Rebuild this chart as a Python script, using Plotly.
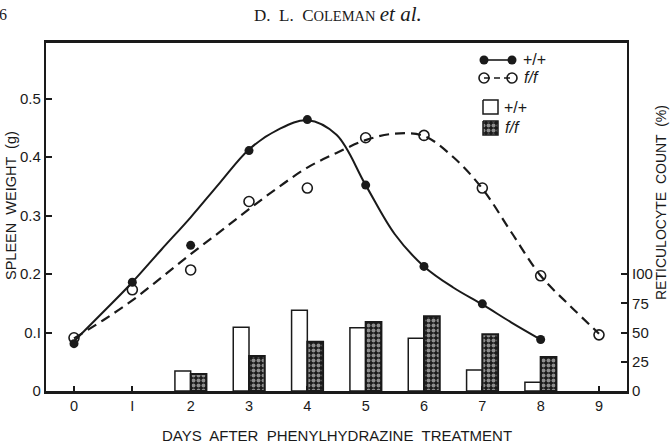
import plotly.graph_objects as go

# ---- data ----
days = [0, 1, 2, 3, 4, 5, 6, 7, 8, 9]
spleen_pp = [0.081, 0.186, 0.249, 0.411, 0.464, 0.352, 0.213, 0.149, 0.088, None]
spleen_ff = [0.091, 0.173, 0.207, 0.324, 0.347, 0.433, 0.437, 0.347, 0.197, 0.096]

# hand-drawn fitted curves
curve_pp_days = [0, 0.5, 1, 1.5, 2, 2.5, 3, 3.5, 4, 4.5, 5, 5.5, 6, 6.5, 7, 7.5, 8]
curve_pp_vals = [0.085, 0.135, 0.186, 0.242, 0.297, 0.356, 0.413, 0.447, 0.463,
                 0.438, 0.352, 0.268, 0.213, 0.177, 0.148, 0.117, 0.088]
curve_ff_days = [0, 0.5, 1, 1.5, 2, 2.5, 3, 3.5, 4, 4.5, 5, 5.5, 6, 6.5, 7, 7.5, 8, 8.5, 9]
curve_ff_vals = [0.09, 0.121, 0.155, 0.194, 0.234, 0.272, 0.311, 0.348, 0.382, 0.407,
                 0.429, 0.440, 0.436, 0.400, 0.346, 0.271, 0.197, 0.146, 0.098]

bar_days = [2, 3, 4, 5, 6, 7, 8]
retic_pp = [17, 54.5, 69, 54, 45, 18, 7.5]
retic_ff = [14.5, 30, 42, 59, 64, 48.5, 29]

x_ticks = [0, 1, 2, 3, 4, 5, 6, 7, 8, 9]
x_ticktext = ["0", "I", "2", "3", "4", "5", "6", "7", "8", "9"]
y_ticks = [0, 0.1, 0.2, 0.3, 0.4, 0.5]
y_ticktext = ["0", "0.I", "0.2", "0.3", "0.4", "0.5"]
y2_ticks = [0, 25, 50, 75, 100]
y2_ticktext = ["0", "25", "50", "75", "I00"]

# ---- layout geometry (pixels) ----
W, H = 671, 446
L, R, T, B = 46, 627, 43, 391
Y_MAX = 0.595
Y2_MAX = Y_MAX * 500

def px(xp):
    return (xp - L) / (R - L)

def py(yp):
    return (B - yp) / (B - T)

FONT = "Liberation Sans"
INK = "#1a1a1a"
STIPPLE = dict(shape=".", bgcolor=INK, fgcolor="white", size=5, solidity=0.5)

fig = go.Figure()

# bars (right axis)
fig.add_trace(go.Bar(
    x=bar_days, y=retic_pp, yaxis="y2", name="+/+",
    marker=dict(color="white", line=dict(color=INK, width=1.5)),
    showlegend=False,
))
fig.add_trace(go.Bar(
    x=bar_days, y=retic_ff, yaxis="y2", name="f/f",
    marker=dict(color="white", line=dict(color=INK, width=2), pattern=STIPPLE),
    showlegend=False,
))

# curves
fig.add_trace(go.Scatter(
    x=curve_ff_days, y=curve_ff_vals, mode="lines",
    line=dict(color=INK, width=2.2, dash="10px,6px", shape="spline", smoothing=1.0),
    showlegend=False, hoverinfo="skip",
))
fig.add_trace(go.Scatter(
    x=curve_pp_days, y=curve_pp_vals, mode="lines",
    line=dict(color=INK, width=2, shape="spline", smoothing=1.0),
    showlegend=False, hoverinfo="skip",
))
# points
fig.add_trace(go.Scatter(
    x=days, y=spleen_ff, mode="markers",
    marker=dict(symbol="circle-open", size=10, color=INK, line=dict(width=1.6)),
    showlegend=False,
))
fig.add_trace(go.Scatter(
    x=days, y=spleen_pp, mode="markers",
    marker=dict(symbol="circle", size=9, color=INK),
    showlegend=False,
))

# ---- custom legend on a pixel-space overlay axis ----
leg_x1, leg_x2 = 484, 512
row1, row2 = 60, 78
fig.add_trace(go.Scatter(
    x=[leg_x1, leg_x2], y=[row1, row1], xaxis="x3", yaxis="y3", mode="lines+markers",
    line=dict(color=INK, width=1.6), marker=dict(symbol="circle", size=9, color=INK),
    showlegend=False, hoverinfo="skip",
))
fig.add_trace(go.Scatter(
    x=[leg_x1, leg_x2], y=[row2, row2], xaxis="x3", yaxis="y3", mode="lines+markers",
    line=dict(color=INK, width=1.6, dash="6px,4px"),
    marker=dict(symbol="circle-open", size=10, color=INK, line=dict(width=1.6)),
    showlegend=False, hoverinfo="skip",
))
# legend swatches
sq = [(483, 498, 100, 114, False), (483, 498, 121, 135, True)]
for x0, x1, y0, y1, pat in sq:
    kw = dict(fillcolor="white")
    if pat:
        kw = dict(fillpattern=STIPPLE, fillcolor="white")
    fig.add_trace(go.Scatter(
        x=[x0, x1, x1, x0, x0], y=[y0, y0, y1, y1, y0], xaxis="x3", yaxis="y3",
        mode="lines", fill="toself", line=dict(color=INK, width=1.5),
        showlegend=False, hoverinfo="skip", **kw,
    ))

annotations = []
def txt(text, xp, yp, size=13, xanchor="left", angle=0, family=FONT, yanchor="middle"):
    annotations.append(dict(
        text=text, x=px(xp), y=py(yp), xref="paper", yref="paper",
        showarrow=False, xanchor=xanchor, yanchor=yanchor, textangle=angle,
        font=dict(family=family, size=size, color=INK),
    ))

txt("+/+", 521, row1, size=16)
txt("<i>f/f</i>", 522, row2, size=16)
txt("+/+", 502, 107, size=16)
txt("<i>f/f</i>", 503, 128, size=16)

# axis titles
txt("SPLEEN  WEIGHT  (g)", 11, 206, size=14.5, xanchor="center", angle=-90)
txt("RETICULOCYTE  COUNT  (%)", 661, 203, size=14, xanchor="center", angle=-90)
txt("DAYS  AFTER  PHENYLHYDRAZINE  TREATMENT", 337, 435, size=15, xanchor="center")

# page header
txt("D.  L.  C<span style='font-size:14.5px'>OLEMAN</span> "
    "<span style='font-size:21px'><i>et al.</i></span>", 338, 14,
    size=17, xanchor="center", family="Liberation Serif")
txt("6", 3, 14, size=16, xanchor="center", family="Liberation Serif")

fig.update_layout(
    width=W, height=H,
    margin=dict(l=L, r=W - R, t=T, b=H - B, pad=0),
    paper_bgcolor="white", plot_bgcolor="white",
    barmode="group", bargap=0.46, bargroupgap=0,
    annotations=annotations,
    xaxis=dict(
        range=[-0.48, 9.48], tickvals=x_ticks, ticktext=x_ticktext,
        ticks="inside", ticklen=5, tickwidth=1.5, tickcolor=INK,
        showline=True, linecolor=INK, linewidth=2.5, mirror=True,
        showgrid=False, zeroline=False,
        tickfont=dict(family=FONT, size=14.5, color=INK),
    ),
    yaxis=dict(
        range=[0, Y_MAX], tickvals=y_ticks, ticktext=y_ticktext,
        ticks="inside", ticklen=6, tickwidth=1.5, tickcolor=INK,
        showline=True, linecolor=INK, linewidth=2.2,
        showgrid=False, zeroline=False,
        tickfont=dict(family=FONT, size=15, color=INK),
    ),
    yaxis2=dict(
        range=[0, Y2_MAX], tickvals=y2_ticks, ticktext=y2_ticktext,
        overlaying="y", side="right",
        ticks="inside", ticklen=6, tickwidth=1.5, tickcolor=INK,
        showline=True, linecolor=INK, linewidth=2.2,
        showgrid=False, zeroline=False,
        tickfont=dict(family=FONT, size=15, color=INK),
    ),
    xaxis3=dict(range=[L, R], overlaying="x", anchor="y3", visible=False),
    yaxis3=dict(range=[B, T], overlaying="y", anchor="x3", visible=False),
)

fig.write_html("out.html")
